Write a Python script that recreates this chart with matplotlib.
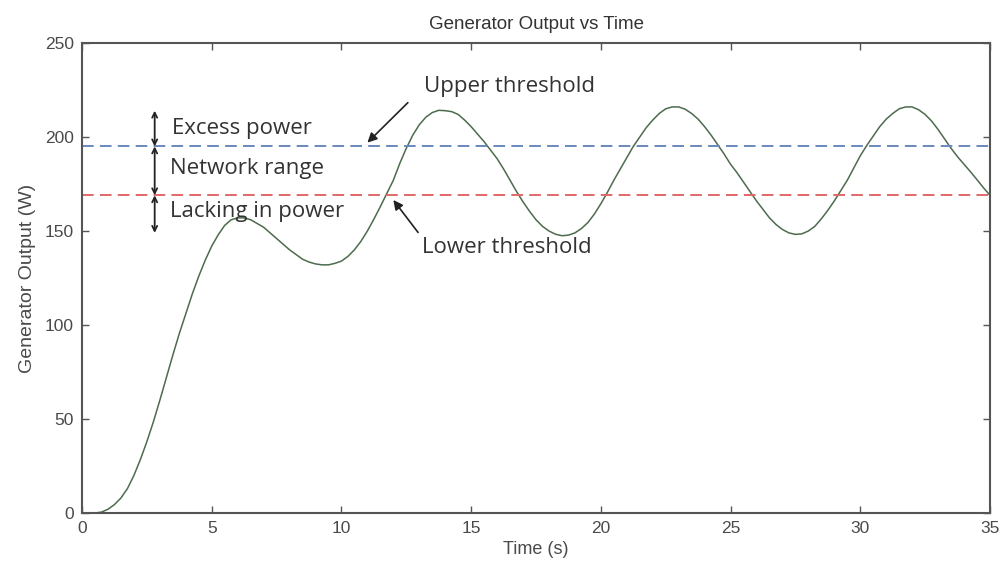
import numpy as np
import matplotlib
matplotlib.use("Agg")
import matplotlib.pyplot as plt

# generator output sampled every 0.25 s (one row per second)
time_s = np.arange(0, 35.25, 0.25)
output_w = [
    0, 0, 0, 0.5,
    2, 4.5, 8, 13,
    20, 28.5, 38, 48.5,
    60, 72, 84, 95.5,
    106, 116.5, 126, 134.5,
    142, 148, 153, 156,
    157, 157, 156, 154,
    152, 149, 146, 143,
    140, 137.5, 135, 133.5,
    132.5, 132, 132, 132.8,
    134, 136.5, 140, 144.5,
    150, 156.3, 163, 170,
    177, 186, 194, 201,
    206.5, 210.5, 213, 214.2,
    214, 213.5, 212, 209,
    205.5, 201.5, 197.5, 193,
    188.5, 183, 177, 171,
    165.5, 160.5, 156, 152.5,
    150, 148.3, 147.5, 147.8,
    149, 151.3, 154.5, 159,
    164.5, 170.5, 177, 183,
    189, 195, 200, 205,
    209, 212.5, 215, 216,
    216, 214.8, 212.5, 209.5,
    205.5, 201, 196, 191,
    185.5, 181, 176, 171,
    166, 161.5, 157, 153.5,
    150.8, 149, 148.2, 148.5,
    150, 152.5, 156.5, 161,
    166, 171.5, 177, 183.5,
    190, 195.5, 200.5, 205.5,
    209.5, 212.5, 215, 216,
    216, 214.5, 212, 208.5,
    204, 199, 194, 189.5,
    185.5, 181.5, 177.3, 173,
    169,
]

upper_threshold = 195
lower_threshold = 169
band_top = 214
band_bottom = 149

x_ticks = [0, 5, 10, 15, 20, 25, 30, 35]
y_ticks = [0, 50, 100, 150, 200, 250]

axis_font = "Liberation Sans"
note_font = "Open Sans"
grey = "#4a4a4a"
ink = "#333333"

fig = plt.figure(figsize=(10.03, 5.75), dpi=100)
ax = fig.add_axes([0.0818, 0.1078, 0.9052, 0.8174])

ax.plot(time_s, output_w, color="#4d6b4d", lw=1.1)
ax.axhline(upper_threshold, color="#6a88bd", lw=1.4, ls=(0, (6, 3.2)))
ax.axhline(lower_threshold, color="#e06868", lw=1.4, ls=(0, (6, 3.2)))

ax.set_xlim(0, 35)
ax.set_ylim(0, 250)
ax.set_xticks(x_ticks)
ax.set_yticks(y_ticks)
ax.tick_params(direction="in", length=5, width=1, top=True, right=True,
               colors="#555555", labelcolor=grey, labelsize=12.5, pad=6)
for lab in ax.get_xticklabels() + ax.get_yticklabels():
    lab.set_family(axis_font)
for sp in ax.spines.values():
    sp.set_color("#555555")
    sp.set_linewidth(1.5)

ax.set_title("Generator Output vs Time", family=axis_font, fontsize=13.5,
             color=ink, pad=10)
ax.set_xlabel("Time (s)", family=axis_font, fontsize=13, color=grey, labelpad=3)
ax.set_ylabel("Generator Output (W)", family=axis_font, fontsize=14, color=grey,
              labelpad=6)

# double arrows marking the three bands
arrow_x = 2.8
for lo, hi in [(upper_threshold, band_top), (lower_threshold, upper_threshold),
               (band_bottom, lower_threshold)]:
    ax.annotate("", xy=(arrow_x, hi), xytext=(arrow_x, lo),
                arrowprops=dict(arrowstyle="<->", color="#222222", lw=1.3,
                                mutation_scale=9, shrinkA=0, shrinkB=0))

note_kw = dict(family=note_font, fontsize=16, color=ink, va="center")
ax.text(3.45, 204.5, "Excess power", **note_kw)
ax.text(3.4, 183.5, "Network range", **note_kw)
ax.text(3.4, 160.5, "Lacking in power", **note_kw)

ax.annotate("Upper threshold", xy=(11.0, 197), xytext=(13.2, 227),
            ha="left", va="center", family=note_font, fontsize=16, color=ink,
            arrowprops=dict(arrowstyle="-|>", color="#222222", lw=1.2,
                            mutation_scale=14, shrinkA=14, shrinkB=0,
                            relpos=(0, 0.5)))
ax.annotate("Lower threshold", xy=(12.0, 166.5), xytext=(13.1, 141),
            ha="left", va="center", family=note_font, fontsize=16, color=ink,
            arrowprops=dict(arrowstyle="-|>", color="#222222", lw=1.2,
                            mutation_scale=14, shrinkA=2, shrinkB=0,
                            relpos=(0, 1.0)))

fig.savefig("out.png", dpi=100)
